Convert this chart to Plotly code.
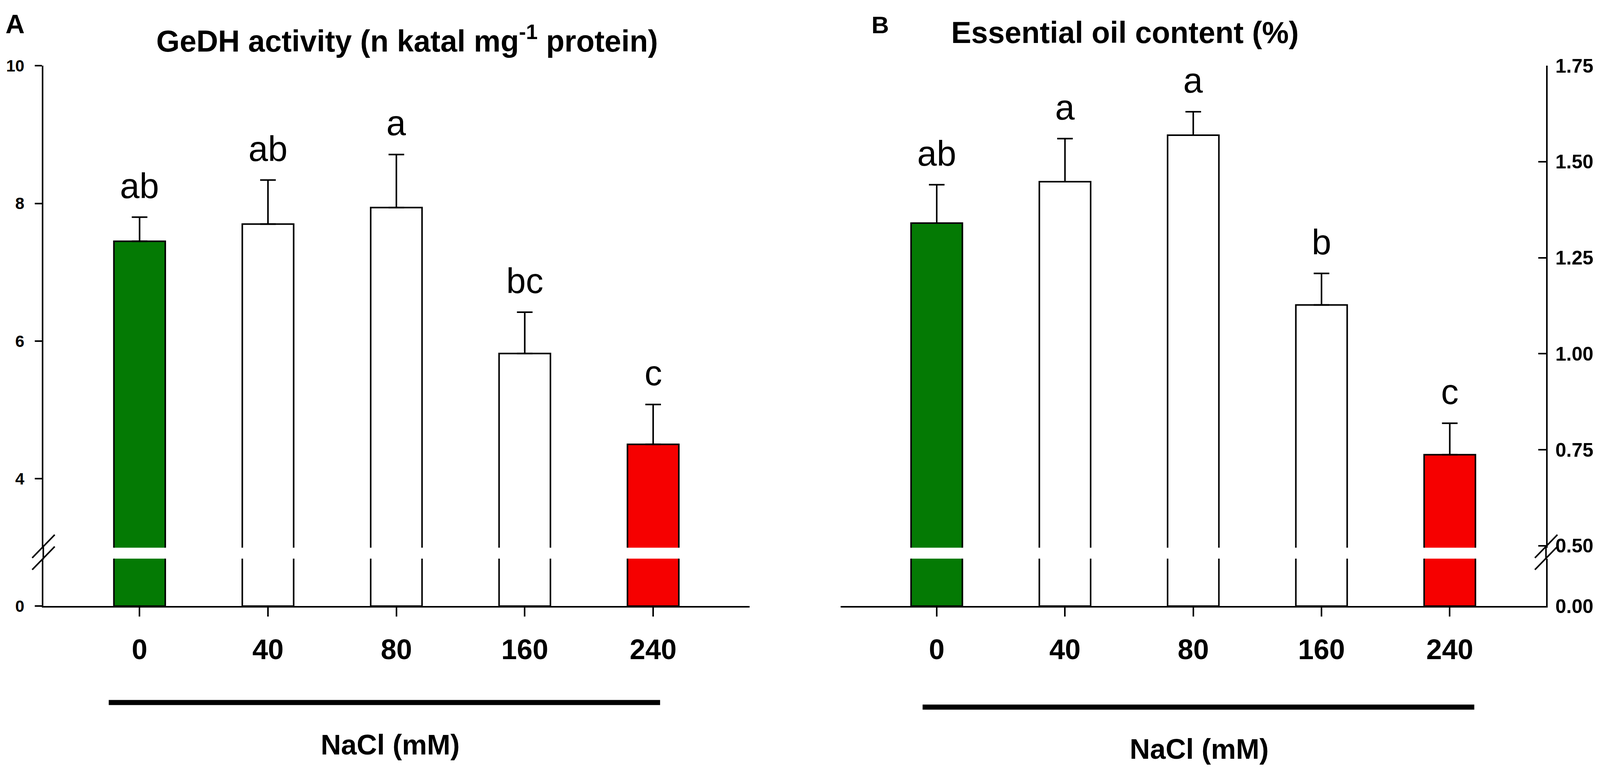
"""
Bar charts of GeDH activity and essential oil content under NaCl stress
"""
import plotly.graph_objects as go

# reference picture is 4620x2004; the page is shown in a 4096x2004 viewport
# with the default 8px body margin, so the autosized figure is 4080x1988
REF_W = 4620
VIEW_W = 4096
FIG_W, FIG_H = 4080, 1988
SX = VIEW_W / REF_W
FONT = "Liberation Sans, Arial, sans-serif"

# data
nacl = ["0", "40", "80", "160", "240"]
bar_colors = ["#047A04", "white", "white", "white", "#F60000"]

gedh_mean = [7.45, 7.70, 7.94, 5.82, 4.50]
gedh_sd = [0.35, 0.64, 0.77, 0.60, 0.58]
gedh_letters = ["ab", "ab", "a", "bc", "c"]

oil_mean = [1.340, 1.448, 1.569, 1.127, 0.737]
oil_sd = [0.100, 0.112, 0.061, 0.082, 0.082]
oil_letters = ["ab", "a", "a", "b", "c"]

gedh_ticks = [4, 6, 8, 10]
oil_ticks = [0.50, 0.75, 1.00, 1.25, 1.50, 1.75]


def fx(rx):
    """reference x pixel -> paper fraction"""
    return (rx * SX - 8) / FIG_W


def fy(ry):
    """reference y pixel -> paper fraction"""
    return 1 - (ry - 8) / FIG_H


LOWER = [fy(1568), fy(1443)]
UPPER = [fy(1414), fy(144)]


def bar_trace(means, sds, xaxis, yaxis, with_err):
    err = None
    if with_err:
        err = dict(type="data", array=sds, arrayminus=[0] * len(sds),
                   symmetric=False, color="black", thickness=4, width=20)
    return go.Bar(
        x=nacl, y=means, xaxis=xaxis, yaxis=yaxis, width=0.4,
        marker=dict(color=bar_colors, line=dict(color="black", width=4)),
        error_y=err, showlegend=False, hoverinfo="skip",
    )


fig = go.Figure()
# panel A: broken axis = lower (y) + upper (y2)
fig.add_trace(bar_trace(gedh_mean, gedh_sd, "x", "y", False))
fig.add_trace(bar_trace(gedh_mean, gedh_sd, "x", "y2", True))
# panel B: lower (y3) + upper (y4)
fig.add_trace(bar_trace(oil_mean, oil_sd, "x2", "y3", False))
fig.add_trace(bar_trace(oil_mean, oil_sd, "x2", "y4", True))

axis_common = dict(showline=True, linecolor="black", linewidth=4,
                   showgrid=False, zeroline=False, tickcolor="black",
                   tickwidth=4, fixedrange=True)
xcommon = dict(axis_common, type="category", range=[-0.75, 4.75],
               ticks="outside", ticklen=23, ticklabelstandoff=22,
               tickfont=dict(family=FONT, size=72, color="black", weight="bold"))
yleft = dict(axis_common, ticks="outside", ticklen=18, ticklabelstandoff=18,
             tickfont=dict(family=FONT, size=42, color="black", weight="bold"))
yright = dict(axis_common, side="right", ticks="inside", ticklen=20,
              ticklabelstandoff=10, tickformat=".2f",
              tickfont=dict(family=FONT, size=50, color="black", weight="bold"))

fig.update_layout(
    autosize=True,
    margin=dict(l=0, r=0, t=0, b=0),
    paper_bgcolor="white", plot_bgcolor="white",
    xaxis=dict(xcommon, domain=[fx(125), fx(2164)], anchor="y"),
    xaxis2=dict(xcommon, domain=[fx(2427), fx(4464)], anchor="y3"),
    yaxis=dict(yleft, domain=LOWER, range=[0, 1], tickvals=[0], anchor="x"),
    yaxis2=dict(yleft, domain=UPPER, range=[3, 10], tickvals=gedh_ticks, anchor="x"),
    yaxis3=dict(yright, domain=LOWER, range=[0, 0.2], tickvals=[0], anchor="x2"),
    yaxis4=dict(yright, domain=UPPER, range=[0.495, 1.75], tickvals=oil_ticks, anchor="x2"),
)

annotations = []
# significance letters above the error bars (x given as category index)
for i, (m, s, lab) in enumerate(zip(gedh_mean, gedh_sd, gedh_letters)):
    annotations.append(dict(x=i, y=m + s, xref="x", yref="y2", text=lab,
                            showarrow=False, yanchor="bottom", yshift=28,
                            font=dict(family=FONT, size=90, color="black")))
for i, (m, s, lab) in enumerate(zip(oil_mean, oil_sd, oil_letters)):
    annotations.append(dict(x=i, y=m + s, xref="x2", yref="y4", text=lab,
                            showarrow=False, yanchor="bottom", yshift=28,
                            font=dict(family=FONT, size=90, color="black")))

bold = dict(family=FONT, color="black", weight="bold")
# text, x (reference px), baseline y (reference px), anchor, size
texts = [
    ("A", 13, 60, "left", 68),
    ("B", 2514, 60, "left", 62),
    ("GeDH activity (n katal mg<sup>-1</sup> protein)", 1175, 108, "center", 77),
    ("Essential oil content (%)", 3249, 85, "center", 77),
    ("NaCl (mM)", 1127, 1960, "center", 72),
    ("NaCl (mM)", 3463, 1971, "center", 72),
]
for txt, px, base, anchor, size in texts:
    annotations.append(dict(x=fx(px), y=fy(base + 0.212 * size + 1),
                            xref="paper", yref="paper", text=txt,
                            showarrow=False, xanchor=anchor, yanchor="bottom",
                            font=dict(bold, size=size)))
fig.update_layout(annotations=annotations)

# decorations: thick bars under the x labels, axis break marks
shapes = []
for x0, x1, y in [(314, 1906, 1822), (2664, 4257, 1834)]:
    shapes.append(dict(type="line", xref="paper", yref="paper",
                       x0=fx(x0), x1=fx(x1), y0=fy(y), y1=fy(y),
                       line=dict(color="black", width=13)))
for ax_x, sx in [(125, 93), (4464, 4432)]:
    # keep the y axis line continuous through the break
    shapes.append(dict(type="line", xref="paper", yref="paper",
                       x0=fx(ax_x), x1=fx(ax_x), y0=fy(1445), y1=fy(1412),
                       line=dict(color="black", width=4)))
    for y0, y1 in [(1441, 1380), (1472, 1411)]:
        shapes.append(dict(type="line", xref="paper", yref="paper",
                           x0=fx(sx), x1=fx(sx + 65), y0=fy(y0), y1=fy(y1),
                           line=dict(color="black", width=4)))
fig.update_layout(shapes=shapes)

fig.write_html("out.html")
